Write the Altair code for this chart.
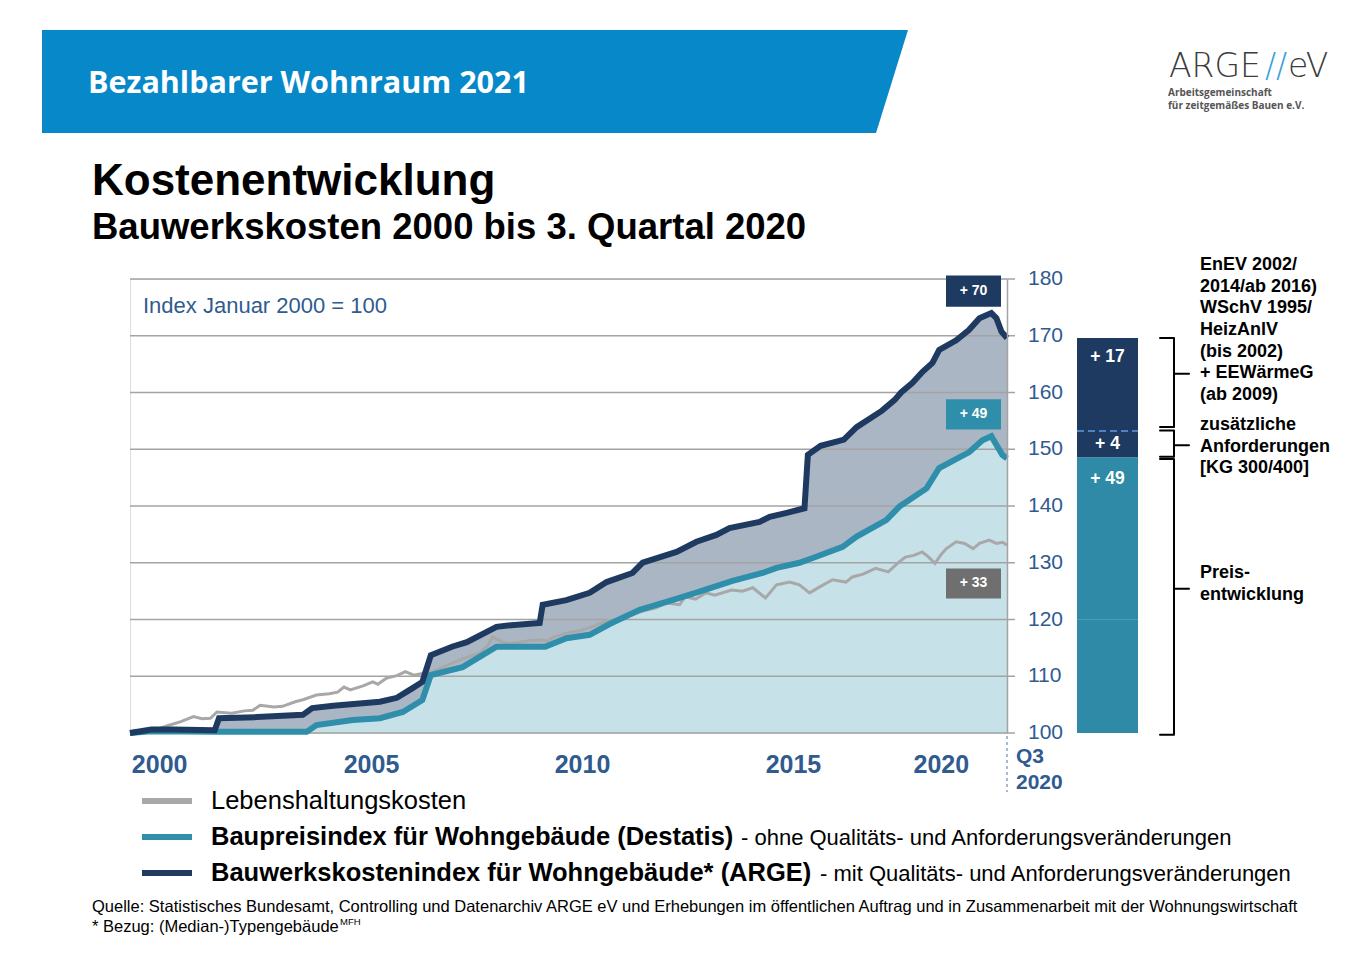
import altair as alt
import pandas as pd

# ---------------- data ----------------
navy_x = [2000.0, 2000.5, 2001.0, 2002.0, 2002.1, 2003.0, 2004.08, 2004.3, 2004.8, 2005.9,
          2006.3, 2006.67, 2006.9, 2007.1, 2007.6, 2007.95, 2008.65, 2009.0, 2009.67, 2009.74,
          2010.3, 2010.85, 2011.25, 2011.86, 2012.1, 2012.9, 2013.37, 2013.84, 2014.15, 2014.86,
          2015.1, 2015.5, 2015.92, 2016.0, 2016.3, 2016.7, 2016.85, 2017.15, 2017.75, 2018.05,
          2018.2, 2018.47, 2018.7, 2018.94, 2019.1, 2019.5, 2019.8, 2020.05, 2020.33, 2020.45,
          2020.57, 2020.7]
navy_y = [100.0, 100.6, 100.6, 100.5, 102.6, 102.8, 103.2, 104.4, 104.8, 105.5,
          106.2, 107.9, 109.0, 113.7, 115.2, 116.0, 118.7, 119.0, 119.4, 122.6,
          123.4, 124.7, 126.6, 128.2, 130.0, 131.9, 133.7, 134.9, 136.1, 137.2,
          138.1, 138.8, 139.6, 149.0, 150.6, 151.4, 151.7, 153.9, 156.8, 158.7,
          160.0, 161.7, 163.6, 165.2, 167.5, 169.2, 171.0, 173.1, 174.0, 173.1,
          170.7, 169.6]

teal_x = [2000.0, 2000.5, 2002.0, 2004.17, 2004.4, 2005.26, 2005.9, 2006.44, 2006.9, 2007.1,
          2007.85, 2008.65, 2009.8, 2010.3, 2010.85, 2011.32, 2012.03, 2012.8, 2013.44, 2014.22,
          2014.93, 2015.26, 2015.8, 2016.1, 2016.82, 2017.15, 2017.85, 2018.16, 2018.8, 2019.1,
          2019.81, 2020.12, 2020.33, 2020.59, 2020.7]
teal_y = [100.0, 100.3, 100.2, 100.2, 101.4, 102.3, 102.6, 103.7, 105.8, 110.2,
          111.6, 115.2, 115.2, 116.7, 117.3, 119.2, 121.7, 123.4, 124.9, 126.8,
          128.2, 129.1, 130.0, 130.8, 132.8, 134.6, 137.5, 139.9, 143.1, 146.7,
          149.5, 151.6, 152.3, 149.0, 148.4]

gray_x = [2000.0, 2000.3, 2000.6, 2000.94, 2001.2, 2001.5, 2001.7, 2001.9, 2002.05, 2002.4,
          2002.7, 2002.9, 2003.07, 2003.4, 2003.6, 2003.9, 2004.1, 2004.4, 2004.7, 2004.9,
          2005.05, 2005.2, 2005.5, 2005.73, 2005.85, 2006.06, 2006.3, 2006.5, 2006.7, 2006.9,
          2007.15, 2007.4, 2007.6, 2007.9, 2008.26, 2008.45, 2008.56, 2008.8, 2009.0, 2009.2,
          2009.45, 2009.67, 2009.85, 2010.0, 2010.3, 2010.6, 2010.9, 2011.2, 2011.5, 2011.8,
          2012.1, 2012.4, 2012.66, 2012.97, 2013.1, 2013.35, 2013.6, 2013.8, 2014.2, 2014.45,
          2014.7, 2015.0, 2015.26, 2015.57, 2015.8, 2016.04, 2016.27, 2016.58, 2016.9, 2017.05,
          2017.3, 2017.6, 2017.9, 2018.1, 2018.3, 2018.5, 2018.7, 2018.85, 2019.0, 2019.15,
          2019.27, 2019.5, 2019.7, 2019.9, 2020.05, 2020.28, 2020.45, 2020.6, 2020.7]
gray_y = [100.0, 100.3, 100.6, 101.4, 102.0, 102.9, 102.5, 102.6, 103.7, 103.5,
          103.9, 104.0, 104.9, 104.6, 104.7, 105.5, 105.9, 106.7, 106.9, 107.2,
          108.1, 107.6, 108.3, 109.0, 108.6, 109.7, 110.1, 110.8, 110.2, 110.5,
          110.8, 111.6, 112.3, 113.2, 114.1, 115.5, 116.9, 116.0, 115.8, 116.0,
          116.3, 116.4, 116.2, 116.9, 117.6, 118.0, 118.7, 119.6, 120.1, 120.7,
          121.5, 122.0, 122.9, 122.6, 124.0, 123.6, 124.7, 124.3, 125.2, 125.0,
          125.6, 123.8, 126.1, 126.6, 126.1, 124.7, 125.7, 127.0, 126.6, 127.5,
          128.0, 129.0, 128.4, 129.8, 131.0, 131.3, 131.9, 131.0, 129.9, 131.5,
          132.5, 133.7, 133.4, 132.5, 133.4, 134.0, 133.4, 133.6, 133.1]

y_ticks = [100, 110, 120, 130, 140, 150, 160, 170, 180]
x_tick_pos = [2000.7, 2005.7, 2010.68, 2015.66, 2019.15]
x_tick_labels = ["2000", "2005", "2010", "2015", "2020"]

box_labels = ["+ 70", "+ 49", "+ 33"]
box_top = [180.6, 158.8, 129.0]
box_bottom = [175.1, 153.5, 123.7]

bar_start = [100.0, 148.6, 153.2]
bar_end = [148.6, 153.2, 169.6]
bar_labels = ["+ 49", "+ 4", "+ 17"]
bar_label_y = [144.8, 151.0, 166.3]

brace_top = [169.6, 153.3, 148.3]
brace_bottom = [153.9, 148.7, 99.7]
brace_mid = [163.3, 150.7, 125.4]

note_lines = ["EnEV 2002/", "2014/ab 2016)", "WSchV 1995/", "HeizAnlV", "(bis 2002)",
              "+ EEWärmeG", "(ab 2009)", "zusätzliche", "Anforderungen", "[KG 300/400]",
              "Preis-", "entwicklung"]
note_y_page = [265, 286.7, 308.3, 330, 351.7, 373.3, 395, 425, 446.7, 468.3, 573.3, 595]

legend_names = ["Lebenshaltungskosten",
                "Baupreisindex für Wohngebäude (Destatis)",
                "Bauwerkskostenindex für Wohngebäude* (ARGE)"]
legend_notes = ["", "- ohne Qualitäts- und Anforderungsveränderungen",
                "- mit Qualitäts- und Anforderungsveränderungen"]

# ---------------- style ----------------
FONT = "Liberation Sans"
NAVY = "#1f3a60"
TEAL = "#2f8fab"
BAR_TEAL = "#2e8aa6"
GRAYLINE = "#a8a8a8"
AREA_DARK = "#abb6c5"
AREA_LIGHT = "#c7e1e9"
GRID = "#a3a3a3"
AXIS_BLUE = "#2f5b8f"
BANNER = "#0788c9"

OX, OY = 130, 279          # page position of the plot origin
W, H = 877, 454


def px(x):
    return x - OX


def py(y):
    return y - OY


one = pd.DataFrame({"k": [0]})


def txt(s, x, y, size, weight="normal", color="black", font=FONT, align="left",
        baseline="middle"):
    return alt.Chart(one).mark_text(
        text=s, fontSize=size, fontWeight=weight, color=color, font=font,
        align=align, baseline=baseline
    ).encode(x=alt.value(px(x)), y=alt.value(py(y)))


xs = alt.Scale(domain=[2000, navy_x[-1]], nice=False, zero=False)
ys = alt.Scale(domain=[100, 180], nice=False, zero=False)

yaxis = alt.Axis(orient="right", values=y_ticks, grid=False, ticks=False, domain=True,
                 domainColor=GRID, domainWidth=1.5, labels=False, title=None, zindex=1)


def X(f):
    return alt.X(f, scale=xs, axis=None)


def Y(f):
    return alt.Y(f, scale=ys, axis=yaxis)


navy_df = pd.DataFrame({"x": navy_x, "y": navy_y})
teal_df = pd.DataFrame({"x": teal_x, "y": teal_y})
gray_df = pd.DataFrame({"x": gray_x, "y": gray_y})

layers = []

# banner parallelogram (custom symbol path)
half = (908 - 42) / 2
hh = (133 - 30) / 2 / half
br = (876 - 42) / half - 1
banner_path = f"M -1 {-hh:.4f} L 1 {-hh:.4f} L {br:.4f} {hh:.4f} L -1 {hh:.4f} Z"
layers.append(alt.Chart(one).mark_point(
    shape=banner_path, size=(2 * half) ** 2, filled=True, color=BANNER, opacity=1,
    strokeWidth=0
).encode(x=alt.value(px(475)), y=alt.value(py(81.5))))

layers.append(txt("Bezahlbarer Wohnraum 2021", 88, 92.5, 30.5, "bold", "white",
                  font="Open Sans", baseline="alphabetic"))

# logo
layers.append(txt("ARGE", 1169, 77, 33, 300, "#3c3c3c", font="DejaVu Sans",
                  baseline="alphabetic"))
layers.append(txt("//", 1265, 77, 33, 300, "#3aa0dc", font="DejaVu Sans",
                  baseline="alphabetic"))
layers.append(txt("eV", 1288, 77, 33, 300, "#3c3c3c", font="DejaVu Sans",
                  baseline="alphabetic"))
layers.append(txt("Arbeitsgemeinschaft", 1168, 93, 10, "bold", "#555555", font="Open Sans"))
layers.append(txt("für zeitgemäßes Bauen e.V.", 1168, 106, 10, "bold", "#555555",
                  font="Open Sans"))

# titles
layers.append(txt("Kostenentwicklung", 92, 194.5, 44, "bold", "black",
                  baseline="alphabetic"))
layers.append(txt("Bauwerkskosten 2000 bis 3. Quartal 2020", 92, 238.5, 36.5, "bold",
                  "black", baseline="alphabetic"))

# areas
layers.append(alt.Chart(navy_df).mark_area(color=AREA_DARK, opacity=1).encode(
    x=X("x:Q"), y=Y("y:Q"), y2=alt.datum(100)))
layers.append(alt.Chart(teal_df).mark_area(color=AREA_LIGHT, opacity=1).encode(
    x=X("x:Q"), y=Y("y:Q"), y2=alt.datum(100)))

# gridlines with their small ticks to the right, and y tick labels
grid_df = pd.DataFrame({"v": y_ticks, "lab": [str(v) for v in y_ticks]})
layers.append(alt.Chart(grid_df).mark_rule(color=GRID, strokeWidth=1.5).encode(
    y=Y("v:Q"), x=alt.value(0), x2=alt.value(W + 8)))
layers.append(alt.Chart(grid_df).mark_text(
    align="left", baseline="middle", fontSize=21, color=AXIS_BLUE, font=FONT).encode(
    y=Y("v:Q"), x=alt.value(px(1028)), text="lab:N"))

# x tick labels
xt_df = pd.DataFrame({"x": x_tick_pos, "lab": x_tick_labels})
layers.append(alt.Chart(xt_df).mark_text(
    align="center", baseline="middle", fontSize=25, fontWeight="bold", color=AXIS_BLUE,
    font=FONT).encode(x=X("x:Q"), y=alt.value(py(765)), text="lab:N"))

# lines
layers.append(alt.Chart(gray_df).mark_line(color=GRAYLINE, strokeWidth=3).encode(
    x=X("x:Q"), y=Y("y:Q")))
layers.append(alt.Chart(teal_df).mark_line(color=TEAL, strokeWidth=6).encode(
    x=X("x:Q"), y=Y("y:Q")))
layers.append(alt.Chart(navy_df).mark_line(color=NAVY, strokeWidth=6).encode(
    x=X("x:Q"), y=Y("y:Q")))

# value boxes
box_df = pd.DataFrame({"lab": box_labels, "top": box_top, "bot": box_bottom,
                       "c": [NAVY, TEAL, "#6f6f6f"]})
layers.append(alt.Chart(box_df).mark_rect().encode(
    y=Y("top:Q"), y2="bot:Q",
    x=alt.value(px(946)), x2=alt.value(px(1001)),
    color=alt.Color("c:N", scale=None)))
layers.append(alt.Chart(box_df).transform_calculate(
    mid="(datum.top + datum.bot) / 2").mark_text(
    color="white", fontWeight="bold", fontSize=14, font=FONT).encode(
    y=Y("mid:Q"), x=alt.value(px(973.5)), text="lab:N"))

# index note
layers.append(txt("Index Januar 2000 = 100", 143, 306, 22, "normal", AXIS_BLUE))

# end-of-series marker and Q3 2020 label
end_df = pd.DataFrame({"x": [navy_x[-1]]})
layers.append(alt.Chart(end_df).mark_rule(color="#8fa3ba", strokeWidth=1.5,
                                          strokeDash=[3, 3]).encode(
    x=X("x:Q"), y=alt.value(py(736)), y2=alt.value(py(792))))
for lab, yy in [("Q3", 757), ("2020", 783)]:
    layers.append(alt.Chart(end_df).mark_text(
        text=lab, align="left", baseline="middle", dx=9, fontSize=21, fontWeight="bold",
        color=AXIS_BLUE, font=FONT).encode(x=X("x:Q"), y=alt.value(py(yy))))

# stacked bar on the right
bar_df = pd.DataFrame({"s": bar_start, "e": bar_end, "c": [BAR_TEAL, NAVY, NAVY],
                       "lab": bar_labels, "ly": bar_label_y})
layers.append(alt.Chart(bar_df).mark_rect().encode(
    y=Y("s:Q"), y2="e:Q",
    x=alt.value(px(1077)), x2=alt.value(px(1138)),
    color=alt.Color("c:N", scale=None)))
layers.append(alt.Chart(pd.DataFrame({"v": [120]})).mark_rule(
    color="#4d9cb6", strokeWidth=1).encode(
    y=Y("v:Q"), x=alt.value(px(1077)), x2=alt.value(px(1138))))
layers.append(alt.Chart(pd.DataFrame({"v": [bar_start[2]]})).mark_rule(
    color="#4f82c4", strokeWidth=2, strokeDash=[7, 4]).encode(
    y=Y("v:Q"), x=alt.value(px(1077)), x2=alt.value(px(1138))))
layers.append(alt.Chart(bar_df).mark_text(
    color="white", fontWeight="bold", fontSize=17.5, font=FONT).encode(
    y=Y("ly:Q"), x=alt.value(px(1107.5)), text="lab:N"))

# braces
brace_df = pd.DataFrame({"t": brace_top, "b": brace_bottom, "m": brace_mid})
bx = px(1174)
layers.append(alt.Chart(brace_df).mark_rule(color="black", strokeWidth=2).encode(
    y=Y("t:Q"), y2="b:Q", x=alt.value(bx)))
for f in ["t", "b"]:
    layers.append(alt.Chart(brace_df).mark_rule(color="black", strokeWidth=2,
                                                strokeCap="round").encode(
        y=Y(f"{f}:Q"), x=alt.value(px(1160)), x2=alt.value(bx)))
layers.append(alt.Chart(brace_df).mark_rule(color="black", strokeWidth=2,
                                            strokeCap="round").encode(
    y=Y("m:Q"), x=alt.value(bx), x2=alt.value(px(1189))))

# right-hand notes
for s, yy in zip(note_lines, note_y_page):
    layers.append(txt(s, 1200, yy, 18, "bold", "black"))

# legend
leg_colors = [GRAYLINE, TEAL, NAVY]
leg_y = [801, 837, 873]
leg_weights = ["normal", "bold", "bold"]
leg_note_x = [None, 741, 820]
for name, note, c, yy, w, nx in zip(legend_names, legend_notes, leg_colors, leg_y,
                                    leg_weights, leg_note_x):
    layers.append(alt.Chart(one).mark_rule(color=c, strokeWidth=6).encode(
        x=alt.value(px(142)), x2=alt.value(px(192)), y=alt.value(py(yy))))
    layers.append(txt(name, 211, yy, 25.5, w, "black"))
    if nx is not None:
        layers.append(txt(note, nx, yy + 1, 22, "normal", "black"))

# source
layers.append(txt("Quelle: Statistisches Bundesamt, Controlling und Datenarchiv ARGE eV und "
                  "Erhebungen im öffentlichen Auftrag und in Zusammenarbeit mit der "
                  "Wohnungswirtschaft", 92, 907, 16.5, "normal", "black"))
layers.append(txt("* Bezug: (Median-)Typengebäude", 92, 927, 16.5, "normal", "black"))
layers.append(txt("MFH", 340, 922, 9.5, "normal", "black"))

chart = alt.layer(*layers).properties(
    width=W, height=H,
    padding={"left": OX - 8, "top": OY - 8, "right": 1353 - (OX - 8) - W,
             "bottom": 940 - (OY - 8) - H},
    autosize=alt.AutoSizeParams(type="none"),
).configure_view(stroke=None).configure(font=FONT)

chart.save("out.html", embed_options={"renderer": "svg", "actions": False})
